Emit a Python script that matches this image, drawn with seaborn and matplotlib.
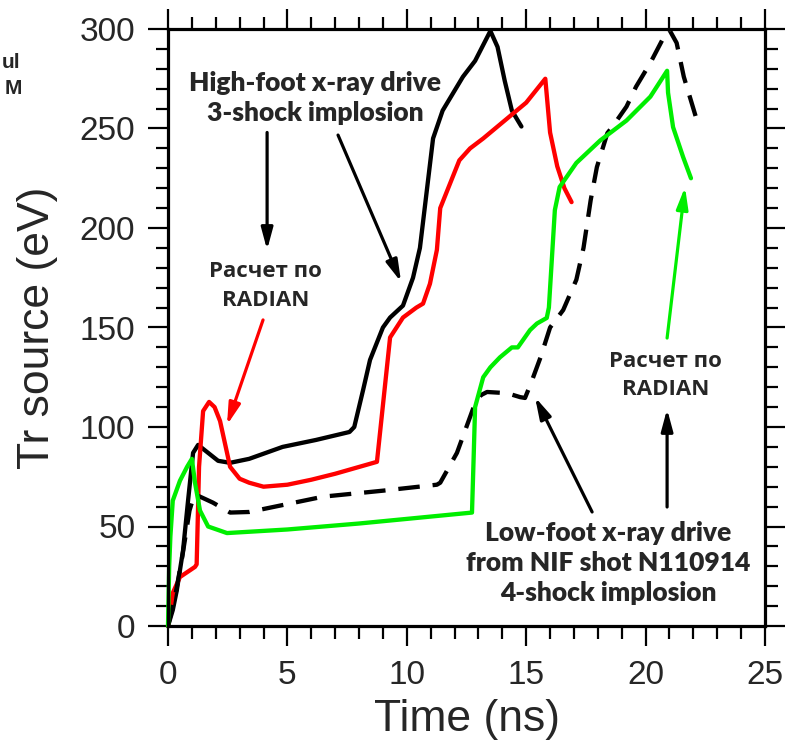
import numpy as np
import pandas as pd
import matplotlib
matplotlib.use("Agg")
import matplotlib.pyplot as plt
import seaborn as sns
from matplotlib.ticker import MultipleLocator

# High-foot x-ray drive (3-shock implosion), black solid
hf_t = [0, 0.2, 0.37, 0.63, 0.84, 1.05, 1.26, 1.68, 2.1, 2.6, 3.4, 4.8, 6.2, 7.6, 7.8,
        8.17, 8.46, 9.0, 9.3, 9.84, 10.26, 10.55, 10.85, 11.1, 11.5, 12.35, 12.86, 13.5,
        13.8, 14.1, 14.4, 14.8]
hf_tr = [0, 8, 18, 38, 63, 87, 91, 87, 83, 82, 84, 90, 93.5, 97.5, 100,
         118.6, 133.7, 150, 155, 161, 175, 190, 220, 245, 259, 276, 284, 299,
         291, 274, 259, 251]

# RADIAN calculation for the high-foot drive, red
hf_rad_t = [0, 0.2, 0.5, 0.92, 1.13, 1.2, 1.3, 1.47, 1.72, 1.95, 2.18, 2.6, 3.0, 3.4,
            4.0, 5.0, 6.0, 7.0, 8.75, 9.3, 9.84, 10.4, 10.68, 10.97, 11.26, 11.4, 11.8,
            12.2, 12.65, 13.2, 13.9, 14.3, 15.0, 15.8, 16.0, 16.3, 16.6, 16.9]
hf_rad_tr = [0, 16.6, 24.6, 28, 29.7, 31, 80, 108, 112.6, 110, 103, 80, 74, 72,
             70, 71, 73.5, 76.5, 82.5, 145, 155, 160, 162, 172, 189, 210, 222,
             234, 240, 245, 252, 256, 263, 275, 248, 231, 220, 213]

# Low-foot x-ray drive from NIF shot N110914 (4-shock implosion), black dashed
lf_t = [0, 0.3, 0.6, 0.9, 1.1, 1.34, 1.88, 2.6, 3.4, 6.5, 9.0, 11.26, 11.4, 12.1,
        12.8, 13.1, 13.36, 14.2, 14.75, 14.95, 15.2, 15.6, 16.0, 16.55, 17.1, 17.4,
        17.7, 17.96, 18.4, 18.6, 19.2, 19.6, 20.2, 20.7, 21.0, 21.3, 21.6, 22.15]
lf_tr = [0, 15, 35, 58, 66, 65, 62, 57, 57.3, 65, 68, 71, 72, 87,
         110, 116, 117.6, 117, 115, 114.6, 122, 135, 150, 158.8, 174, 190,
         214, 230.6, 247.7, 250.7, 261, 271, 283, 294.5, 299.5, 293, 276, 254]

# RADIAN calculation for the low-foot drive, green
lf_rad_t = [0, 0.05, 0.1, 0.2, 0.5, 0.8, 1.0, 1.13, 1.34, 1.68, 2.47, 5.0, 8.0, 12.73,
            12.8, 12.86, 13.2, 13.5, 13.9, 14.4, 14.65, 15.16, 15.45, 15.86, 15.95,
            16.2, 16.4, 17.1, 18.1, 19.2, 20.2, 20.9, 20.94, 21.15, 21.57, 21.9]
lf_rad_tr = [0, 30, 45, 63, 73, 80, 84, 72, 58, 50, 46.7, 48.5, 51.5, 57,
             85, 110, 125, 130, 135, 140, 140, 148.7, 152, 154.8, 160,
             209, 220.6, 232.7, 244, 254, 266, 279, 268, 250.7, 235.7, 225]

sns.set_style("ticks")
plt.rcParams["font.family"] = ["Liberation Sans", "DejaVu Sans"]

fig = plt.figure(figsize=(7.88, 7.44), dpi=100)
ax = fig.add_axes([168 / 788, 1 - 626 / 744, (765 - 168) / 788, (626 - 29) / 744])

lw = 3.1
sns.lineplot(x=hf_t, y=hf_tr, sort=False, estimator=None, color="black", lw=lw,
             ax=ax, clip_on=False)
sns.lineplot(x=hf_rad_t, y=hf_rad_tr, sort=False, estimator=None, color="#ff0000",
             lw=lw, ax=ax, clip_on=False)
sns.lineplot(x=lf_t, y=lf_tr, sort=False, estimator=None, color="black", lw=lw,
             linestyle=(0, (5, 3)), ax=ax, clip_on=False)
sns.lineplot(x=lf_rad_t, y=lf_rad_tr, sort=False, estimator=None, color="#00ee00",
             lw=lw, ax=ax, clip_on=False)

ax.set_xlim(0, 25)
ax.set_ylim(0, 300)
ax.xaxis.set_major_locator(MultipleLocator(5))
ax.xaxis.set_minor_locator(MultipleLocator(1))
ax.yaxis.set_major_locator(MultipleLocator(50))
ax.yaxis.set_minor_locator(MultipleLocator(10))

for s in ax.spines.values():
    s.set_linewidth(2.3)
    s.set_color("black")
    s.set_visible(True)

ax.tick_params(which="both", direction="out", top=True, right=True,
               labeltop=False, labelright=False, color="black")
ax.tick_params(which="major", length=14.5, width=1.6, labelsize=24)
ax.tick_params(which="minor", length=9, width=1.6)
ax.tick_params(axis="x", which="major", pad=10)
ax.tick_params(axis="y", which="major", pad=9)

ax.set_xlabel("Time (ns)", fontsize=32, labelpad=6)
ax.set_ylabel("Tr source (eV)", fontsize=32, labelpad=16)
ax.grid(False)

note_font = ["Lato", "Open Sans", "DejaVu Sans"]
ru_font = ["Open Sans", "DejaVu Sans"]

ax.text(6.16, 265.5, "High-foot x-ray drive\n3-shock implosion", ha="center",
        va="center", fontsize=19, fontweight="heavy", family=note_font,
        linespacing=1.3)
ax.text(18.43, 31.7, "Low-foot x-ray drive\nfrom NIF shot N110914\n4-shock implosion",
        ha="center", va="center", fontsize=19, fontweight="heavy", family=note_font,
        linespacing=1.3)
ax.text(4.1, 170.9, "Расчет по\nRADIAN", ha="center", va="center", fontsize=16,
        fontweight="bold", family=ru_font, linespacing=1.45)
ax.text(20.85, 126, "Расчет по\nRADIAN", ha="center", va="center", fontsize=16,
        fontweight="bold", family=ru_font, linespacing=1.45)

def arrow(x0, y0, x1, y1, color):
    ax.annotate("", xy=(x1, y1), xytext=(x0, y0),
                arrowprops=dict(arrowstyle="-|>,head_length=1.3,head_width=0.35",
                                color=color, lw=2.3, shrinkA=0, shrinkB=0))

arrow(4.15, 248, 4.15, 189, "black")
arrow(7.12, 246.7, 9.76, 172.9, "black")
arrow(3.98, 153.8, 2.47, 101, "#ff0000")
arrow(20.9, 144.7, 21.65, 220.6, "#00ee00")
arrow(20.9, 59.8, 20.9, 109, "black")
arrow(17.76, 57.3, 15.37, 115, "black")

fig.text(2 / 788, 1 - 62 / 744, "ul", ha="left", va="center", fontsize=15,
         fontweight="bold")
fig.text(5 / 788, 1 - 89 / 744, "M", ha="left", va="center", fontsize=15,
         fontweight="bold")

fig.savefig("out.png", dpi=100)
